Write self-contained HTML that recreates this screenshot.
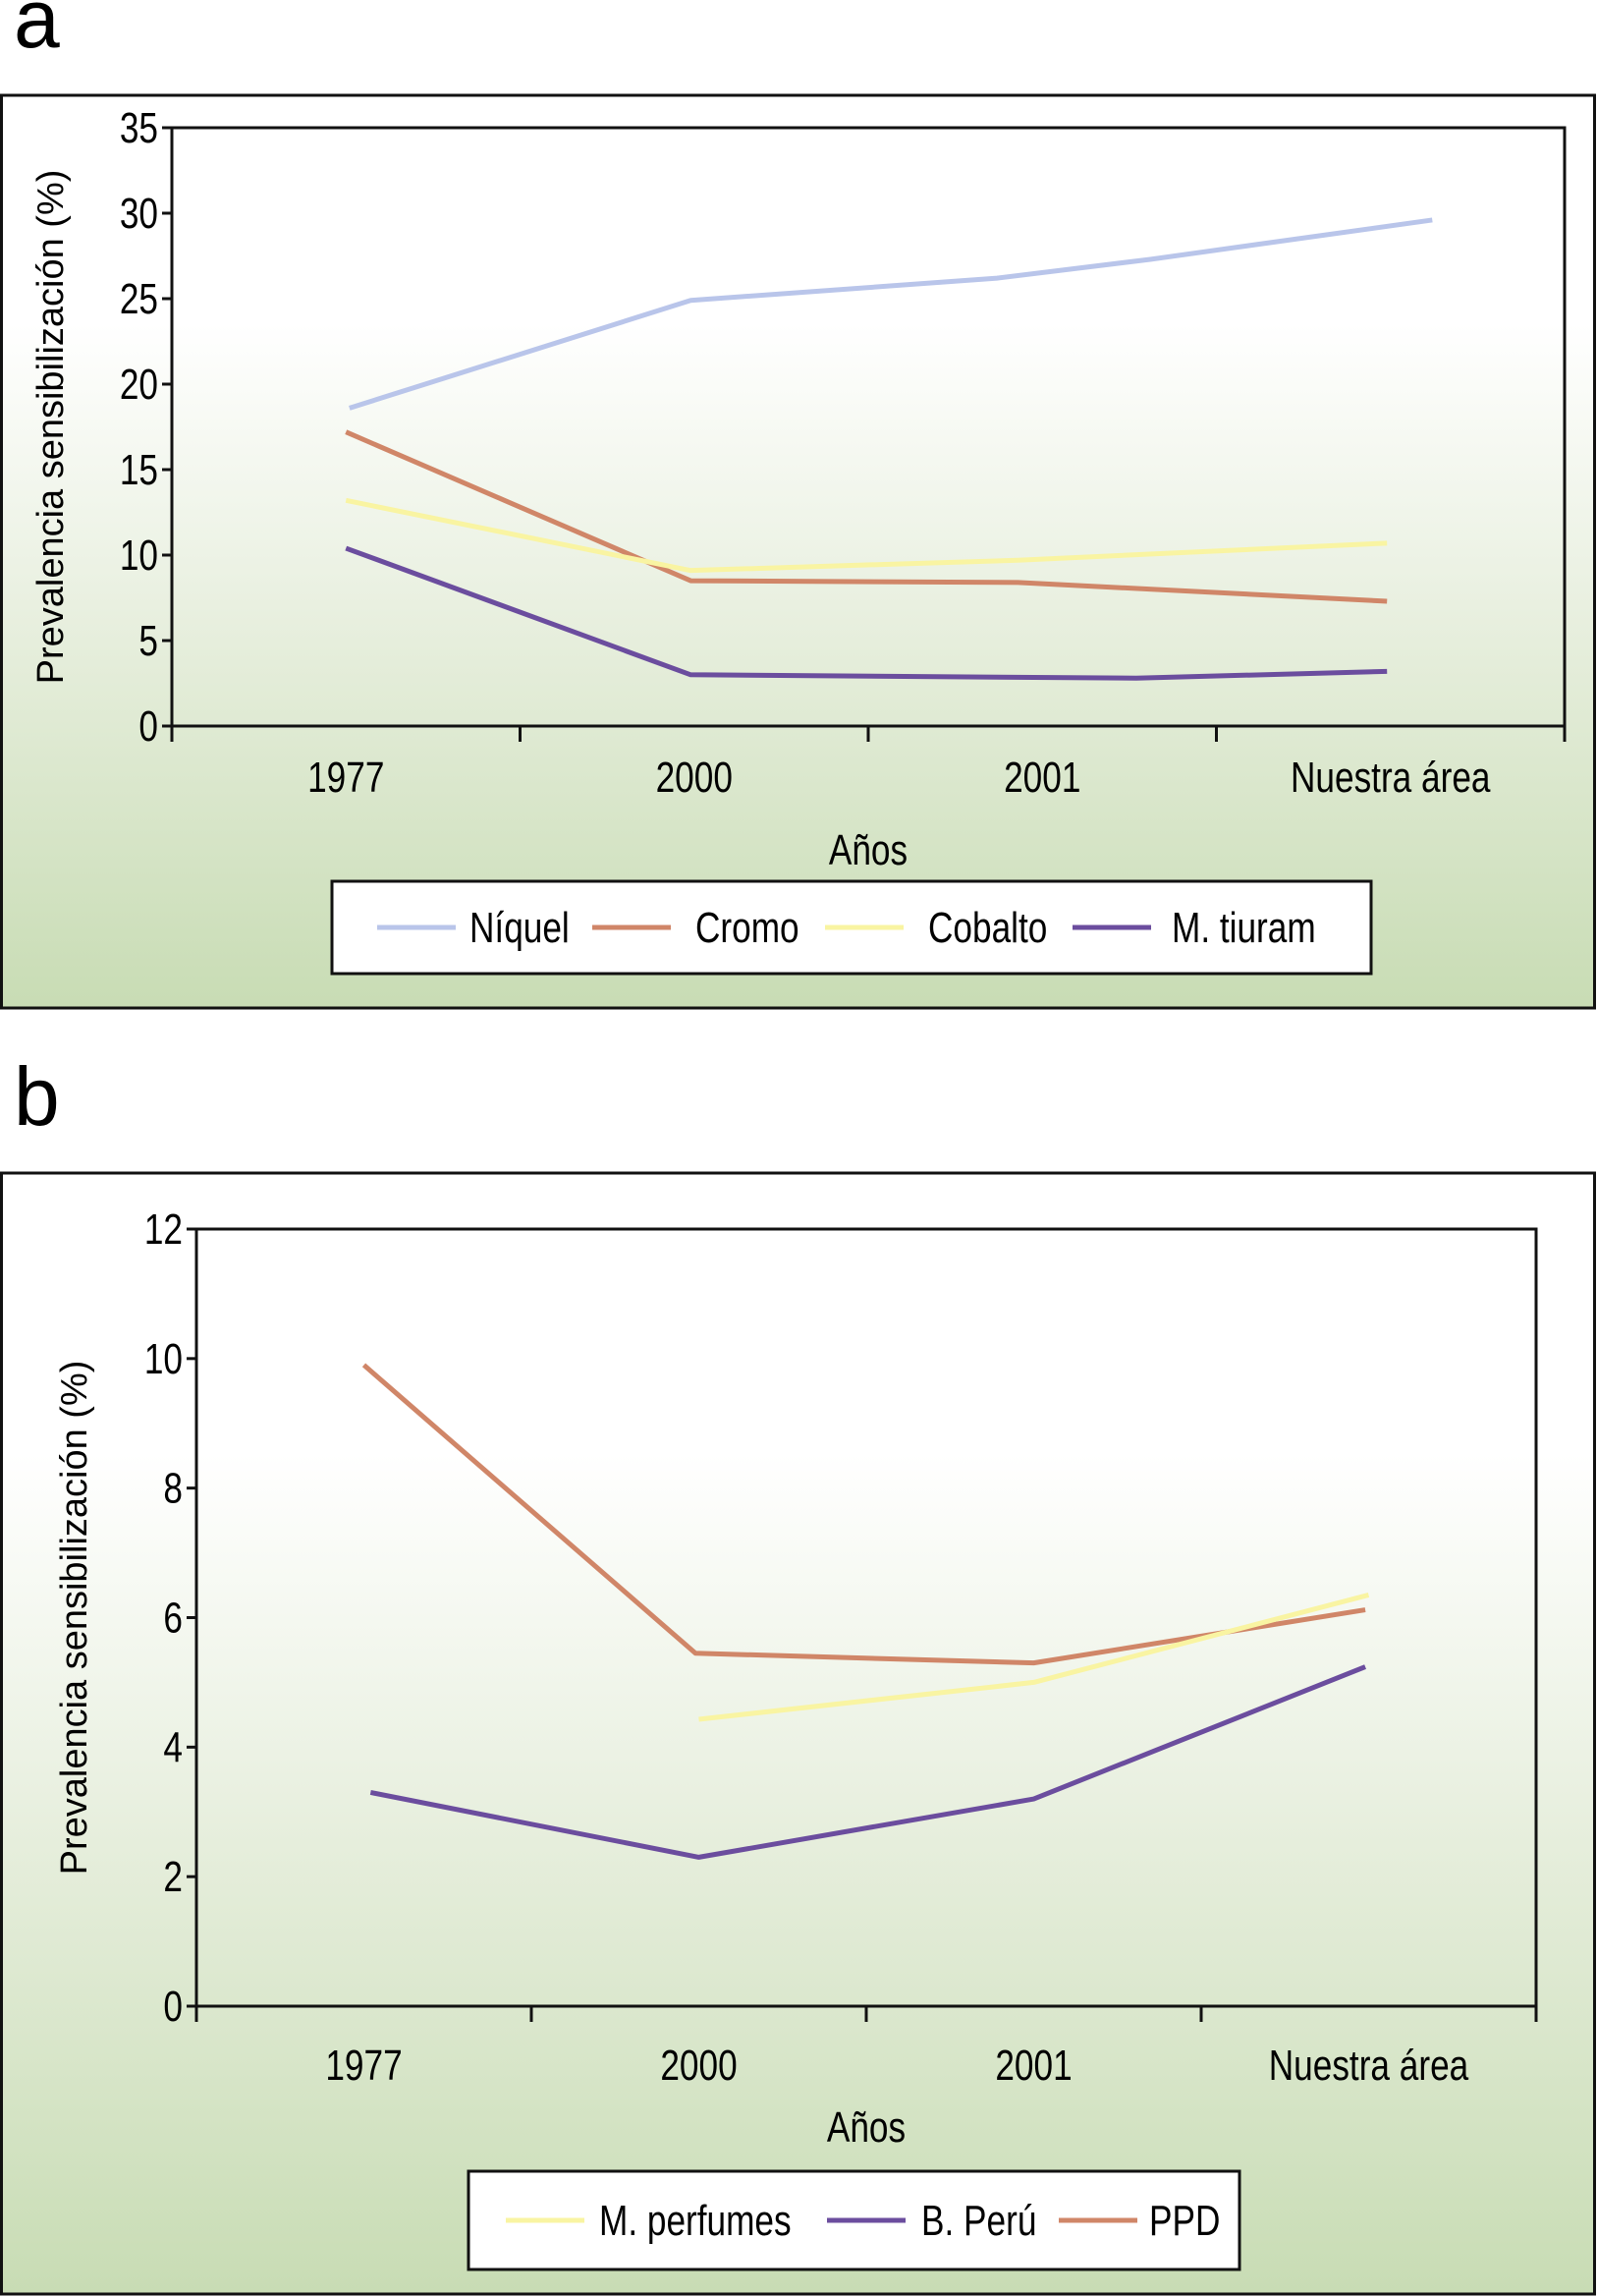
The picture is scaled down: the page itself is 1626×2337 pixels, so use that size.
<!DOCTYPE html>
<html><head><meta charset="utf-8">
<style>
html,body{margin:0;padding:0;background:#fff;}
svg{display:block;font-family:"Liberation Sans",sans-serif;}
</style></head>
<body>
<svg id="s" width="1626" height="2337" viewBox="0 0 1626 2337">
<defs>
<linearGradient id="g" x1="0" y1="0" x2="0" y2="1">
<stop offset="0" stop-color="#ffffff"/>
<stop offset="0.25" stop-color="#ffffff"/>
<stop offset="0.6" stop-color="#e6eedc"/>
<stop offset="1" stop-color="#c8dcb4"/>
</linearGradient>
</defs>
</svg>
<script>
const NS="http://www.w3.org/2000/svg";
const svg=document.getElementById('s');
// chart a data
const catsA=["1977","2000","2001","Nuestra área"];
const niquelX=[0.01,0.99,1.87,2.31,3.12], niquelY=[18.6,24.9,26.2,27.3,29.6];
const cromoX=[0,0.99,1.93,2.99], cromoY=[17.2,8.5,8.4,7.3];
const cobaltoX=[0,0.99,1.93,2.99], cobaltoY=[13.2,9.1,9.7,10.7];
const tiuramX=[0,0.99,2.27,2.99], tiuramY=[10.4,3.0,2.8,3.2];
const ticksA=[0,5,10,15,20,25,30,35];
// chart b data
const catsB=["1977","2000","2001","Nuestra área"];
const ppdX=[0,0.99,2.0,2.99], ppdY=[9.9,5.45,5.3,6.12];
const perfX=[1.0,2.0,3.0], perfY=[4.43,5.0,6.35];
const peruX=[0.02,1.0,2.0,2.99], peruY=[3.3,2.3,3.2,5.24];
const ticksB=[0,2,4,6,8,10,12];

function el(tag,attrs,parent){const e=document.createElementNS(NS,tag);for(const k in attrs)e.setAttribute(k,attrs[k]);(parent||svg).appendChild(e);return e;}
function txt(s,attrs,parent){const e=el('text',attrs,parent);e.textContent=s;
  if(attrs.cond){const w=e.getComputedTextLength();e.setAttribute('textLength',w*attrs.cond);e.setAttribute('lengthAdjust','spacingAndGlyphs');}
  return e;}

function chart(o){
  const g=el('g',{});
  
  
  const lbl=txt(o.letter,{x:14,y:o.letterY,'font-size':84});
  
  
  const fr=el('rect',{x:1.5,y:o.fy,width:1622,height:o.fh,fill:'url(#g)',stroke:'#111','stroke-width':3},g);
  
  
  const L=o.L,R=o.R,T=o.T,B=o.B,max=o.ticks[o.ticks.length-1];
  const ys=v=>B-(v/max)*(B-T);
  const cw=(R-L)/4;
  const xs=i=>L+cw*(i+0.5);
  const pa=el('rect',{x:L,y:T,width:R-L,height:B-T,fill:'none',stroke:'#111','stroke-width':3},g);
  
  
  o.ticks.forEach(t=>{
    el('line',{x1:L-10,x2:L,y1:ys(t),y2:ys(t),stroke:'#111','stroke-width':3},g);
    const tl=txt(String(t),{x:L-14,y:ys(t)+15,'font-size':44,'text-anchor':'end',cond:0.8},g);
    
    
  });
  for(let i=0;i<=4;i++) el('line',{x1:L+cw*i,x2:L+cw*i,y1:B,y2:B+16,stroke:'#111','stroke-width':3},g);
  o.cats.forEach((c,i)=>{
    const cl=txt(c,{x:xs(i),y:o.catY,'font-size':44,'text-anchor':'middle',cond:0.8},g);
    
    
  });
  const xt=txt('Años',{x:(L+R)/2,y:o.xtY,'font-size':44,'text-anchor':'middle',cond:0.8},g);
  
  
  const cy=(T+B)/2;
  const yt=txt('Prevalencia sensibilización (%)',{x:o.ytX,y:cy,'font-size':38,'text-anchor':'middle',transform:`rotate(-90 ${o.ytX} ${cy})`},g);
  
  
  o.series.forEach(s=>{
    const pts=s.x.map((x,i)=>xs(x)+','+ys(s.y[i])).join(' ');
    const pl=el('polyline',{points:pts,fill:'none',stroke:s.c,'stroke-width':5,'stroke-linejoin':'round'},g);
    
    
  });
  const lg=el('g',{},g);
  
  
  el('rect',{x:o.lx,y:o.ly,width:o.lw,height:o.lh,fill:'#fff',stroke:'#111','stroke-width':3},lg);
  o.legend.forEach(e=>{
    const le=el('g',{},lg);
    
    
    el('line',{x1:e.x1,x2:e.x1+80,y1:o.ly+o.lh/2,y2:o.ly+o.lh/2,stroke:e.c,'stroke-width':5},le);
    txt(e.t,{x:e.tx,y:o.ly+o.lh/2+15,'font-size':44,cond:0.8},le);
  });
}

chart({name:'chart-a',letter:'a',letterY:48,fy:97,fh:929,L:175,R:1593,T:130,B:739,ticks:ticksA,cats:catsA,catY:806,xtY:880,ytX:64,
  series:[{id:'niquel',x:niquelX,y:niquelY,c:'#b9c5ea'},{id:'cromo',x:cromoX,y:cromoY,c:'#d08668'},{id:'cobalto',x:cobaltoX,y:cobaltoY,c:'#f9f4a2'},{id:'tiuram',x:tiuramX,y:tiuramY,c:'#6b4d9e'}],
  lx:338,ly:897,lw:1058,lh:94,
  legend:[{x1:384,tx:478,t:'Níquel',c:'#b9c5ea'},{x1:603,tx:708,t:'Cromo',c:'#d08668'},{x1:840,tx:945,t:'Cobalto',c:'#f9f4a2'},{x1:1092,tx:1193,t:'M. tiuram',c:'#6b4d9e'}]
});
chart({name:'chart-b',letter:'b',letterY:1145,fy:1194,fh:1141,L:200,R:1564,T:1251,B:2042,ticks:ticksB,cats:catsB,catY:2117,xtY:2180,ytX:88,
  series:[{id:'ppd',x:ppdX,y:ppdY,c:'#d08668'},{id:'m-perfumes',x:perfX,y:perfY,c:'#f9f4a2'},{id:'b-peru',x:peruX,y:peruY,c:'#6b4d9e'}],
  lx:477,ly:2210,lw:785,lh:100,
  legend:[{x1:515,tx:610,t:'M. perfumes',c:'#f9f4a2'},{x1:842,tx:938,t:'B. Perú',c:'#6b4d9e'},{x1:1078,tx:1170,t:'PPD',c:'#d08668'}]
});
</script>
</body></html>
